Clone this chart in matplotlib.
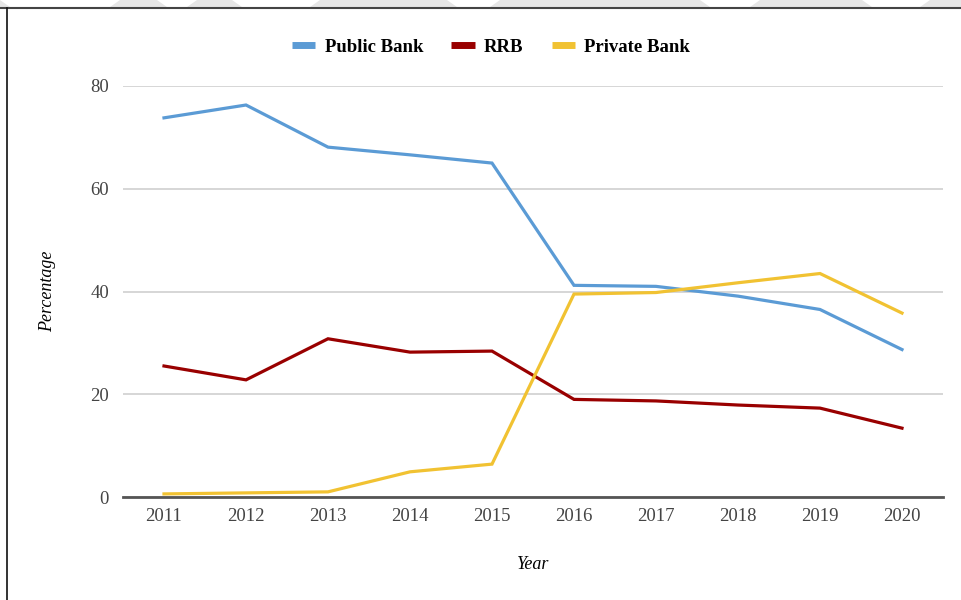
import matplotlib.pyplot as plt
from matplotlib.patches import Polygon, Rectangle
from matplotlib.lines import Line2D

years = ['2011', '2012', '2013', '2014', '2015', '2016', '2017', '2018', '2019', '2020']
public_bank = [73.8, 76.3, 68.1, 66.6, 65.0, 41.2, 41.0, 39.1, 36.5, 28.7]
rrb = [25.5, 22.8, 30.8, 28.2, 28.4, 19.0, 18.7, 17.9, 17.3, 13.4]
private_bank = [0.6, 0.8, 1.0, 4.9, 6.4, 39.5, 39.8, 41.7, 43.5, 35.8]

series = [
    ('Public Bank', public_bank, '#5b9bd5'),
    ('RRB', rrb, '#990000'),
    ('Private Bank', private_bank, '#f1c232'),
]

plt.rcParams['font.family'] = ['Liberation Serif', 'DejaVu Serif']

fig = plt.figure(figsize=(9.62, 6.0), dpi=100)
ax = fig.add_axes([123 / 962, 103 / 600, 820 / 962, 411 / 600])

x = list(range(len(years)))
for name, vals, col in series:
    ax.plot(x, vals, color=col, lw=2.3, label=name, solid_joinstyle='miter', zorder=3)

ax.set_xlim(-0.5, len(years) - 0.5)
ax.set_ylim(0, 80)
ax.set_yticks([0, 20, 40, 60, 80])
ax.set_xticks(x)
ax.set_xticklabels(years)
ax.grid(axis='y', color='#cccccc', lw=1.1, zorder=0)
ax.set_axisbelow(True)
for s in ['top', 'right', 'left']:
    ax.spines[s].set_visible(False)
ax.spines['bottom'].set_color('#555555')
ax.spines['bottom'].set_linewidth(2)
ax.spines['bottom'].set_zorder(4)
ax.tick_params(length=0, labelsize=13.5, labelcolor='#444444', pad=8)
ax.tick_params(axis='y', pad=10)

ax.set_xlabel('Year', fontsize=13, style='italic')
ax.set_ylabel('Percentage', fontsize=13, style='italic')
ax.xaxis.set_label_coords(0.5, -0.165)
ax.yaxis.set_label_coords(-0.0915, 0.5)
ax.xaxis.label.set_va('center')
ax.yaxis.label.set_va('center')

handles = [Line2D([], [], color=c, lw=5, solid_capstyle='butt') for _, _, c in series]
fig.legend(handles, [n for n, _, _ in series], loc='center', bbox_to_anchor=(491 / 962, 1 - 47 / 600),
           ncol=3, frameon=False, handlelength=1.25, columnspacing=1.5, handletextpad=0.5,
           prop={'size': 13.5, 'weight': 'bold'})

# page edge: grey strip with watermark cut-outs, then border lines
fig.patches.append(Rectangle((0, 1 - 7 / 600), 1, 7 / 600, transform=fig.transFigure,
                             facecolor='#e6e6e6', edgecolor='none'))
for x0, x1 in [(0, 120), (157, 197), (232, 320), (447, 500), (700, 760), (862, 930)]:
    fig.patches.append(Polygon([(x0 / 962, 1), (x1 / 962, 1), ((x1 - 10) / 962, 1 - 7 / 600),
                                ((x0 + 10) / 962, 1 - 7 / 600)], transform=fig.transFigure,
                               facecolor='white', edgecolor='none'))
fig.add_artist(Line2D([0, 1], [1 - 7.5 / 600, 1 - 7.5 / 600], transform=fig.transFigure,
                      color='#444444', lw=1.5))
fig.add_artist(Line2D([7.5 / 962, 7.5 / 962], [0, 1 - 7.5 / 600], transform=fig.transFigure,
                      color='#111111', lw=1.2))

fig.savefig('out.png', dpi=100)
